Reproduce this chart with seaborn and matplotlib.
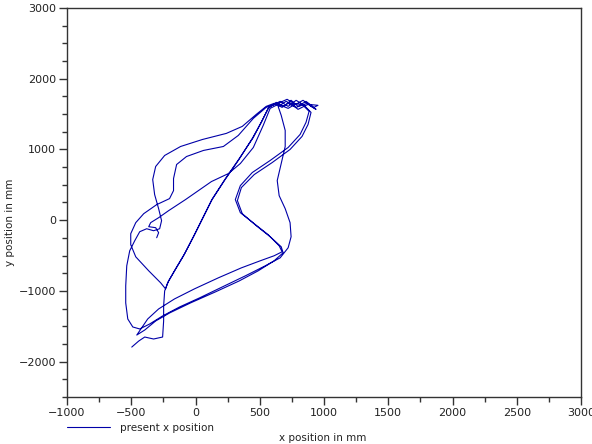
import numpy as np
import pandas as pd
import matplotlib
matplotlib.use("Agg")
import matplotlib.pyplot as plt
from matplotlib.ticker import MultipleLocator
import seaborn as sns

# trajectory pieces (mm), in drawing order
x_seg1 = [-496, -442, -395, -326, -256, -248, -248, -240, -209, -163, -93, -16, 54, 124, 225, 333, 442, 512, 566]
y_seg1 = [-1794, -1709, -1652, -1680, -1652, -1425, -1212, -1000, -858, -716, -503, -234, 21, 277, 560, 844, 1156, 1383, 1581]

x_clu1 = [628, 690, 744, 798, 860, 922, 953, 876, 798, 729, 674, 612]
y_clu1 = [1666, 1609, 1695, 1609, 1680, 1595, 1624, 1638, 1567, 1666, 1595, 1652]

x_seg2 = [550, 473, 364, 240, 54, -116, -240, -310, -333, -318, -287, -264, -279, -326, -380, -434, -473, -512, -535, -543, -543, -527, -488, -434]
y_seg2 = [1609, 1496, 1326, 1227, 1141, 1042, 915, 759, 574, 362, 163, -7, -121, -149, -121, -163, -291, -433, -645, -929, -1170, -1397, -1510, -1538]

x_seg3 = [-357, -256, -124, 31, 209, 388, 543, 659, 721, 744, 736, 698, 651, 636, 667, 698, 698, 667, 643]
y_seg3 = [-1468, -1354, -1227, -1099, -943, -787, -645, -532, -390, -234, -35, 163, 347, 560, 801, 1042, 1269, 1482, 1609]

x_clu2 = [705, 767, 837, 899, 938, 868, 783, 721]
y_clu2 = [1680, 1624, 1695, 1609, 1567, 1652, 1595, 1652]

x_seg4 = [829, 884, 860, 814, 721, 581, 442, 349, 310, 349, 457, 566, 651, 674, 612, 504, 357, 178, -8, -163, -287, -372, -419, -457]
y_seg4 = [1638, 1539, 1383, 1212, 1028, 844, 674, 489, 291, 106, -50, -206, -362, -447, -503, -574, -674, -815, -971, -1113, -1255, -1397, -1524, -1624]

x_seg5 = [-395, -310, -202, -39, 155, 341, 488, 612, 682, 667, 581, 473, 364, 326, 357, 457, 597, 736, 829, 876, 899, 845]
y_seg5 = [-1553, -1425, -1312, -1170, -1014, -858, -716, -574, -461, -376, -234, -78, 92, 277, 461, 645, 815, 1000, 1184, 1354, 1524, 1624]

x_clu3 = [783, 721, 659, 597]
y_clu3 = [1695, 1609, 1680, 1624]

x_seg6 = [550, 450, 333, 217, 62, -70, -147, -171, -171, -202, -302, -403, -465, -504, -504, -465, -364, -271, -233, -217, -155, -85, -8, 62, 132, 233, 341, 450, 519, 574]
y_seg6 = [1595, 1439, 1198, 1042, 986, 900, 787, 588, 418, 305, 220, 92, -35, -191, -347, -518, -716, -886, -971, -886, -688, -475, -206, 50, 305, 588, 872, 1170, 1411, 1609]

x_clu4 = [643, 713, 775, 721, 643]
y_clu4 = [1652, 1709, 1638, 1581, 1638]

x_seg7 = [581, 527, 450, 349, 256, 124, 23, -78, -209, -287, -349, -364, -310, -287, -302]
y_seg7 = [1581, 1340, 1028, 801, 659, 546, 418, 291, 135, 35, -35, -92, -106, -177, -248]

x_parts = [x_seg1, x_clu1, x_seg2, x_seg3, x_clu2, x_seg4, x_seg5, x_clu3, x_seg6, x_clu4, x_seg7]
y_parts = [y_seg1, y_clu1, y_seg2, y_seg3, y_clu2, y_seg4, y_seg5, y_clu3, y_seg6, y_clu4, y_seg7]

xs = np.concatenate(x_parts)
ys = np.concatenate(y_parts)
df = pd.DataFrame({"x": xs, "y": ys, "order": np.arange(len(xs))})

sns.set_style("white")
plt.rcParams["font.family"] = ["DejaVu Sans"]

W, H = 592, 444
fig = plt.figure(figsize=(W / 100, H / 100), dpi=100)
L, R, T, B = 67, 581, 8, 397
ax = fig.add_axes([L / W, 1 - B / H, (R - L) / W, (B - T) / H])

line_color = "#0000a8"
sns.lineplot(data=df, x="x", y="y", sort=False, estimator=None, ax=ax,
             color=line_color, linewidth=0.8, label="present x position")

ax.set_xlim(-1000, 3000)
ax.set_ylim(-2500, 3000)
ax.xaxis.set_major_locator(MultipleLocator(500))
ax.xaxis.set_minor_locator(MultipleLocator(250))
ax.yaxis.set_major_locator(MultipleLocator(1000))
ax.yaxis.set_minor_locator(MultipleLocator(250))
ax.tick_params(axis="both", which="major", direction="out", length=6, width=1,
               color="#333333", labelsize=8, labelcolor="#222222", pad=2,
               bottom=True, left=True, top=False, right=False)
ax.tick_params(axis="both", which="minor", direction="out", length=3.5, width=1,
               color="#333333", bottom=True, left=True, top=False, right=False)
for s in ax.spines.values():
    s.set_color("#333333")
    s.set_linewidth(1.0)

ax.set_xlabel("x position in mm", fontsize=7.5, color="#222222", va="center")
ax.xaxis.set_label_coords((323 - L) / (R - L), (B - 438) / (B - T))
ax.set_ylabel("y position in mm", fontsize=7.5, color="#222222", va="center")
ax.yaxis.set_label_coords((10 - L) / (R - L), (B - 222) / (B - T))

leg = ax.legend(loc="center left", bbox_to_anchor=(0.0, (B - 428) / (B - T)),
                frameon=False, fontsize=7.5, handlelength=4.1, handletextpad=1.0,
                borderpad=0, borderaxespad=0)
for t in leg.get_texts():
    t.set_color("#222222")

fig.savefig("out.png", dpi=100)
